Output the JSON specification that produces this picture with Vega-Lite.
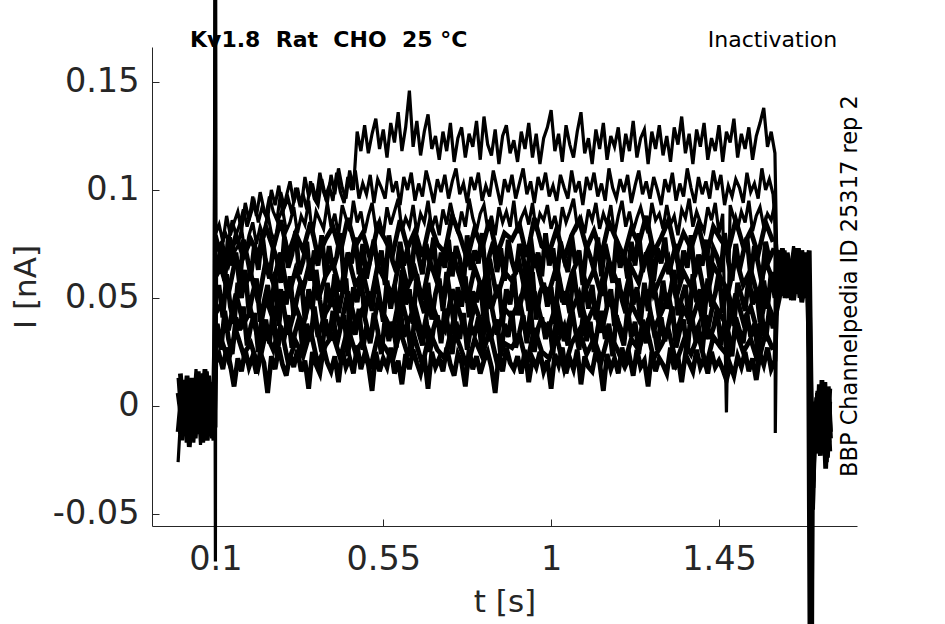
{
  "$schema": "https://vega.github.io/schema/vega-lite/v6.json",
  "width": 705,
  "height": 479,
  "autosize": "none",
  "padding": {"left": 152, "top": 47, "right": 88, "bottom": 98},
  "background": "white",
  "config": {"view": {"stroke": null}, "font": "DejaVu Sans"},
  "layer": [
    {
      "data": {"values": [
        {"s":1,"t":0,"i":-0.026},{"s":1,"t":0.012,"i":0.01},{"s":1,"t":0.024,"i":-0.012},{"s":1,"t":0.036,"i":0.008},{"s":1,"t":0.048,"i":-0.015},{"s":1,"t":0.06,"i":0.012},{"s":1,"t":0.072,"i":-0.009},{"s":1,"t":0.084,"i":0.014},{"s":1,"t":0.096,"i":-0.013},{"s":1,"t":0.1,"i":0.3},{"s":1,"t":0.101,"i":0.08},
        {"s":1,"t":0.11,"i":0.084},{"s":1,"t":0.12,"i":0.076},{"s":1,"t":0.13,"i":0.088},{"s":1,"t":0.14,"i":0.079},{"s":1,"t":0.15,"i":0.085},{"s":1,"t":0.16,"i":0.09},{"s":1,"t":0.17,"i":0.081},{"s":1,"t":0.18,"i":0.094},{"s":1,"t":0.19,"i":0.086},{"s":1,"t":0.2,"i":0.097},
        {"s":1,"t":0.21,"i":0.088},{"s":1,"t":0.22,"i":0.099},{"s":1,"t":0.23,"i":0.091},{"s":1,"t":0.24,"i":0.087},{"s":1,"t":0.25,"i":0.1},{"s":1,"t":0.26,"i":0.093},{"s":1,"t":0.27,"i":0.102},{"s":1,"t":0.28,"i":0.089},{"s":1,"t":0.29,"i":0.097},{"s":1,"t":0.3,"i":0.104},
        {"s":1,"t":0.31,"i":0.094},{"s":1,"t":0.32,"i":0.101},{"s":1,"t":0.33,"i":0.092},{"s":1,"t":0.34,"i":0.106},{"s":1,"t":0.35,"i":0.097},{"s":1,"t":0.36,"i":0.103},{"s":1,"t":0.37,"i":0.095},{"s":1,"t":0.38,"i":0.108},{"s":1,"t":0.39,"i":0.099},{"s":1,"t":0.4,"i":0.094},
        {"s":1,"t":0.41,"i":0.107},{"s":1,"t":0.42,"i":0.098},{"s":1,"t":0.43,"i":0.11},{"s":1,"t":0.44,"i":0.101},{"s":1,"t":0.45,"i":0.096},{"s":1,"t":0.46,"i":0.109},{"s":1,"t":0.47,"i":0.1},{"s":1,"t":0.48,"i":0.127},{"s":1,"t":0.49,"i":0.118},{"s":1,"t":0.5,"i":0.13},
        {"s":1,"t":0.51,"i":0.117},{"s":1,"t":0.52,"i":0.126},{"s":1,"t":0.53,"i":0.133},{"s":1,"t":0.54,"i":0.119},{"s":1,"t":0.55,"i":0.128},{"s":1,"t":0.56,"i":0.115},{"s":1,"t":0.57,"i":0.131},{"s":1,"t":0.58,"i":0.122},{"s":1,"t":0.59,"i":0.136},{"s":1,"t":0.6,"i":0.118},
        {"s":1,"t":0.61,"i":0.129},{"s":1,"t":0.62,"i":0.146},{"s":1,"t":0.63,"i":0.12},{"s":1,"t":0.64,"i":0.132},{"s":1,"t":0.65,"i":0.116},{"s":1,"t":0.66,"i":0.127},{"s":1,"t":0.67,"i":0.135},{"s":1,"t":0.68,"i":0.119},{"s":1,"t":0.69,"i":0.125},{"s":1,"t":0.7,"i":0.114},
        {"s":1,"t":0.71,"i":0.127},{"s":1,"t":0.72,"i":0.118},{"s":1,"t":0.73,"i":0.131},{"s":1,"t":0.74,"i":0.113},{"s":1,"t":0.75,"i":0.124},{"s":1,"t":0.76,"i":0.129},{"s":1,"t":0.77,"i":0.115},{"s":1,"t":0.78,"i":0.126},{"s":1,"t":0.79,"i":0.12},{"s":1,"t":0.8,"i":0.132},
        {"s":1,"t":0.81,"i":0.114},{"s":1,"t":0.82,"i":0.134},{"s":1,"t":0.83,"i":0.121},{"s":1,"t":0.84,"i":0.116},{"s":1,"t":0.85,"i":0.128},{"s":1,"t":0.86,"i":0.112},{"s":1,"t":0.87,"i":0.125},{"s":1,"t":0.88,"i":0.13},{"s":1,"t":0.89,"i":0.117},{"s":1,"t":0.9,"i":0.123},
        {"s":1,"t":0.91,"i":0.113},{"s":1,"t":0.92,"i":0.127},{"s":1,"t":0.93,"i":0.119},{"s":1,"t":0.94,"i":0.131},{"s":1,"t":0.95,"i":0.115},{"s":1,"t":0.96,"i":0.126},{"s":1,"t":0.97,"i":0.112},{"s":1,"t":0.98,"i":0.124},{"s":1,"t":0.99,"i":0.129},{"s":1,"t":1,"i":0.137},
        {"s":1,"t":1.01,"i":0.118},{"s":1,"t":1.02,"i":0.126},{"s":1,"t":1.03,"i":0.113},{"s":1,"t":1.04,"i":0.13},{"s":1,"t":1.05,"i":0.121},{"s":1,"t":1.06,"i":0.115},{"s":1,"t":1.07,"i":0.127},{"s":1,"t":1.08,"i":0.136},{"s":1,"t":1.09,"i":0.117},{"s":1,"t":1.1,"i":0.124},
        {"s":1,"t":1.11,"i":0.112},{"s":1,"t":1.12,"i":0.128},{"s":1,"t":1.13,"i":0.119},{"s":1,"t":1.14,"i":0.131},{"s":1,"t":1.15,"i":0.114},{"s":1,"t":1.16,"i":0.125},{"s":1,"t":1.17,"i":0.12},{"s":1,"t":1.18,"i":0.129},{"s":1,"t":1.19,"i":0.113},{"s":1,"t":1.2,"i":0.126},
        {"s":1,"t":1.21,"i":0.118},{"s":1,"t":1.22,"i":0.132},{"s":1,"t":1.23,"i":0.115},{"s":1,"t":1.24,"i":0.124},{"s":1,"t":1.25,"i":0.128},{"s":1,"t":1.26,"i":0.112},{"s":1,"t":1.27,"i":0.127},{"s":1,"t":1.28,"i":0.119},{"s":1,"t":1.29,"i":0.13},{"s":1,"t":1.3,"i":0.116},
        {"s":1,"t":1.31,"i":0.125},{"s":1,"t":1.32,"i":0.113},{"s":1,"t":1.33,"i":0.129},{"s":1,"t":1.34,"i":0.121},{"s":1,"t":1.35,"i":0.134},{"s":1,"t":1.36,"i":0.117},{"s":1,"t":1.37,"i":0.126},{"s":1,"t":1.38,"i":0.112},{"s":1,"t":1.39,"i":0.128},{"s":1,"t":1.4,"i":0.12},
        {"s":1,"t":1.41,"i":0.131},{"s":1,"t":1.42,"i":0.114},{"s":1,"t":1.43,"i":0.124},{"s":1,"t":1.44,"i":0.118},{"s":1,"t":1.45,"i":0.13},{"s":1,"t":1.46,"i":0.113},{"s":1,"t":1.47,"i":0.127},{"s":1,"t":1.48,"i":0.122},{"s":1,"t":1.49,"i":0.133},{"s":1,"t":1.5,"i":0.115},
        {"s":1,"t":1.51,"i":0.126},{"s":1,"t":1.52,"i":0.119},{"s":1,"t":1.53,"i":0.129},{"s":1,"t":1.54,"i":0.114},{"s":1,"t":1.55,"i":0.125},{"s":1,"t":1.56,"i":0.131},{"s":1,"t":1.57,"i":0.138},{"s":1,"t":1.58,"i":0.12},{"s":1,"t":1.59,"i":0.127},{"s":1,"t":1.6,"i":0.117},
        {"s":1,"t":1.605,"i":0.068},{"s":1,"t":1.62,"i":0.051},{"s":1,"t":1.635,"i":0.071},{"s":1,"t":1.65,"i":0.056},{"s":1,"t":1.665,"i":0.073},{"s":1,"t":1.68,"i":0.05},{"s":1,"t":1.692,"i":0.066},{"s":1,"t":1.697,"i":-0.3},
        {"s":1,"t":1.701,"i":-0.047},{"s":1,"t":1.705,"i":-0.02},{"s":1,"t":1.712,"i":0.006},{"s":1,"t":1.719,"i":-0.016},{"s":1,"t":1.726,"i":0.009},{"s":1,"t":1.733,"i":-0.02},{"s":1,"t":1.74,"i":0.004},{"s":1,"t":1.747,"i":-0.017},

        {"s":2,"t":0.006,"i":0.011},{"s":2,"t":0.018,"i":-0.014},{"s":2,"t":0.03,"i":0.006},{"s":2,"t":0.042,"i":-0.017},{"s":2,"t":0.054,"i":0.013},{"s":2,"t":0.066,"i":-0.01},{"s":2,"t":0.078,"i":0.016},{"s":2,"t":0.09,"i":-0.015},{"s":2,"t":0.099,"i":0.009},{"s":2,"t":0.1,"i":-0.072},{"s":2,"t":0.101,"i":0.075},
        {"s":2,"t":0.105,"i":0.077},{"s":2,"t":0.115,"i":0.07},{"s":2,"t":0.125,"i":0.081},{"s":2,"t":0.135,"i":0.076},{"s":2,"t":0.145,"i":0.086},{"s":2,"t":0.155,"i":0.079},{"s":2,"t":0.165,"i":0.084},{"s":2,"t":0.175,"i":0.091},{"s":2,"t":0.185,"i":0.083},{"s":2,"t":0.195,"i":0.089},
        {"s":2,"t":0.205,"i":0.094},{"s":2,"t":0.215,"i":0.085},{"s":2,"t":0.225,"i":0.092},{"s":2,"t":0.235,"i":0.088},{"s":2,"t":0.245,"i":0.097},{"s":2,"t":0.255,"i":0.09},{"s":2,"t":0.265,"i":0.086},{"s":2,"t":0.275,"i":0.099},{"s":2,"t":0.285,"i":0.092},{"s":2,"t":0.295,"i":0.096},
        {"s":2,"t":0.305,"i":0.089},{"s":2,"t":0.315,"i":0.101},{"s":2,"t":0.325,"i":0.094},{"s":2,"t":0.335,"i":0.098},{"s":2,"t":0.345,"i":0.091},{"s":2,"t":0.355,"i":0.104},{"s":2,"t":0.365,"i":0.096},{"s":2,"t":0.375,"i":0.093},{"s":2,"t":0.385,"i":0.105},{"s":2,"t":0.395,"i":0.097},
        {"s":2,"t":0.405,"i":0.102},{"s":2,"t":0.415,"i":0.095},{"s":2,"t":0.425,"i":0.108},{"s":2,"t":0.435,"i":0.099},{"s":2,"t":0.445,"i":0.094},{"s":2,"t":0.455,"i":0.106},{"s":2,"t":0.465,"i":0.1},{"s":2,"t":0.475,"i":0.109},{"s":2,"t":0.485,"i":0.096},{"s":2,"t":0.495,"i":0.103},
        {"s":2,"t":0.505,"i":0.098},{"s":2,"t":0.515,"i":0.107},{"s":2,"t":0.525,"i":0.094},{"s":2,"t":0.535,"i":0.105},{"s":2,"t":0.545,"i":0.101},{"s":2,"t":0.555,"i":0.096},{"s":2,"t":0.565,"i":0.11},{"s":2,"t":0.575,"i":0.099},{"s":2,"t":0.585,"i":0.104},{"s":2,"t":0.595,"i":0.093},
        {"s":2,"t":0.605,"i":0.106},{"s":2,"t":0.615,"i":0.1},{"s":2,"t":0.625,"i":0.108},{"s":2,"t":0.635,"i":0.095},{"s":2,"t":0.645,"i":0.103},{"s":2,"t":0.655,"i":0.097},{"s":2,"t":0.665,"i":0.109},{"s":2,"t":0.675,"i":0.102},{"s":2,"t":0.685,"i":0.094},{"s":2,"t":0.695,"i":0.105},
        {"s":2,"t":0.705,"i":0.099},{"s":2,"t":0.715,"i":0.107},{"s":2,"t":0.725,"i":0.096},{"s":2,"t":0.735,"i":0.104},{"s":2,"t":0.745,"i":0.11},{"s":2,"t":0.755,"i":0.098},{"s":2,"t":0.765,"i":0.103},{"s":2,"t":0.775,"i":0.094},{"s":2,"t":0.785,"i":0.106},{"s":2,"t":0.795,"i":0.1},
        {"s":2,"t":0.805,"i":0.108},{"s":2,"t":0.815,"i":0.095},{"s":2,"t":0.825,"i":0.102},{"s":2,"t":0.835,"i":0.097},{"s":2,"t":0.845,"i":0.109},{"s":2,"t":0.855,"i":0.101},{"s":2,"t":0.865,"i":0.093},{"s":2,"t":0.875,"i":0.105},{"s":2,"t":0.885,"i":0.099},{"s":2,"t":0.895,"i":0.107},
        {"s":2,"t":0.905,"i":0.096},{"s":2,"t":0.915,"i":0.103},{"s":2,"t":0.925,"i":0.11},{"s":2,"t":0.935,"i":0.098},{"s":2,"t":0.945,"i":0.104},{"s":2,"t":0.955,"i":0.094},{"s":2,"t":0.965,"i":0.106},{"s":2,"t":0.975,"i":0.1},{"s":2,"t":0.985,"i":0.108},{"s":2,"t":0.995,"i":0.097},
        {"s":2,"t":1.005,"i":0.102},{"s":2,"t":1.015,"i":0.095},{"s":2,"t":1.025,"i":0.107},{"s":2,"t":1.035,"i":0.101},{"s":2,"t":1.045,"i":0.096},{"s":2,"t":1.055,"i":0.109},{"s":2,"t":1.065,"i":0.099},{"s":2,"t":1.075,"i":0.104},{"s":2,"t":1.085,"i":0.093},{"s":2,"t":1.095,"i":0.106},
        {"s":2,"t":1.105,"i":0.1},{"s":2,"t":1.115,"i":0.108},{"s":2,"t":1.125,"i":0.097},{"s":2,"t":1.135,"i":0.103},{"s":2,"t":1.145,"i":0.095},{"s":2,"t":1.155,"i":0.11},{"s":2,"t":1.165,"i":0.101},{"s":2,"t":1.175,"i":0.096},{"s":2,"t":1.185,"i":0.105},{"s":2,"t":1.195,"i":0.099},
        {"s":2,"t":1.205,"i":0.107},{"s":2,"t":1.215,"i":0.094},{"s":2,"t":1.225,"i":0.102},{"s":2,"t":1.235,"i":0.109},{"s":2,"t":1.245,"i":0.098},{"s":2,"t":1.255,"i":0.104},{"s":2,"t":1.265,"i":0.096},{"s":2,"t":1.275,"i":0.106},{"s":2,"t":1.285,"i":0.1},{"s":2,"t":1.295,"i":0.093},
        {"s":2,"t":1.305,"i":0.105},{"s":2,"t":1.315,"i":0.099},{"s":2,"t":1.325,"i":0.108},{"s":2,"t":1.335,"i":0.095},{"s":2,"t":1.345,"i":0.103},{"s":2,"t":1.355,"i":0.097},{"s":2,"t":1.365,"i":0.11},{"s":2,"t":1.375,"i":0.101},{"s":2,"t":1.385,"i":0.094},{"s":2,"t":1.395,"i":0.106},
        {"s":2,"t":1.405,"i":0.098},{"s":2,"t":1.415,"i":0.104},{"s":2,"t":1.425,"i":0.096},{"s":2,"t":1.435,"i":0.109},{"s":2,"t":1.445,"i":0.1},{"s":2,"t":1.455,"i":0.107},{"s":2,"t":1.465,"i":0.093},{"s":2,"t":1.475,"i":0.102},{"s":2,"t":1.485,"i":0.097},{"s":2,"t":1.495,"i":0.105},
        {"s":2,"t":1.505,"i":0.101},{"s":2,"t":1.515,"i":0.094},{"s":2,"t":1.525,"i":0.108},{"s":2,"t":1.535,"i":0.099},{"s":2,"t":1.545,"i":0.103},{"s":2,"t":1.555,"i":0.096},{"s":2,"t":1.565,"i":0.11},{"s":2,"t":1.575,"i":0.1},{"s":2,"t":1.585,"i":0.105},{"s":2,"t":1.595,"i":0.098},
        {"s":2,"t":1.612,"i":0.055},{"s":2,"t":1.627,"i":0.072},{"s":2,"t":1.642,"i":0.049},{"s":2,"t":1.657,"i":0.069},{"s":2,"t":1.672,"i":0.053},{"s":2,"t":1.687,"i":0.07},{"s":2,"t":1.697,"i":-0.3},
        {"s":2,"t":1.702,"i":-0.04},{"s":2,"t":1.708,"i":-0.005},{"s":2,"t":1.715,"i":-0.021},{"s":2,"t":1.722,"i":0.008},{"s":2,"t":1.729,"i":-0.015},{"s":2,"t":1.736,"i":0.011},{"s":2,"t":1.743,"i":-0.024},{"s":2,"t":1.749,"i":0.002},

        {"s":3,"t":0,"i":0.013},{"s":3,"t":0.012,"i":-0.016},{"s":3,"t":0.024,"i":0.009},{"s":3,"t":0.036,"i":-0.011},{"s":3,"t":0.048,"i":0.017},{"s":3,"t":0.06,"i":-0.018},{"s":3,"t":0.072,"i":0.011},{"s":3,"t":0.084,"i":-0.014},{"s":3,"t":0.096,"i":0.008},{"s":3,"t":0.1,"i":0.25},{"s":3,"t":0.101,"i":0.07},
        {"s":3,"t":0.11,"i":0.068},{"s":3,"t":0.12,"i":0.075},{"s":3,"t":0.13,"i":0.066},{"s":3,"t":0.14,"i":0.078},{"s":3,"t":0.15,"i":0.071},{"s":3,"t":0.16,"i":0.074},{"s":3,"t":0.17,"i":0.082},{"s":3,"t":0.18,"i":0.07},{"s":3,"t":0.19,"i":0.079},{"s":3,"t":0.2,"i":0.085},
        {"s":3,"t":0.21,"i":0.075},{"s":3,"t":0.22,"i":0.083},{"s":3,"t":0.23,"i":0.078},{"s":3,"t":0.24,"i":0.089},{"s":3,"t":0.25,"i":0.08},{"s":3,"t":0.26,"i":0.076},{"s":3,"t":0.27,"i":0.087},{"s":3,"t":0.28,"i":0.091},{"s":3,"t":0.29,"i":0.081},{"s":3,"t":0.3,"i":0.085},
        {"s":3,"t":0.31,"i":0.092},{"s":3,"t":0.32,"i":0.08},{"s":3,"t":0.33,"i":0.088},{"s":3,"t":0.34,"i":0.084},{"s":3,"t":0.35,"i":0.095},{"s":3,"t":0.36,"i":0.079},{"s":3,"t":0.37,"i":0.09},{"s":3,"t":0.38,"i":0.086},{"s":3,"t":0.39,"i":0.082},{"s":3,"t":0.4,"i":0.094},
        {"s":3,"t":0.41,"i":0.083},{"s":3,"t":0.42,"i":0.089},{"s":3,"t":0.43,"i":0.079},{"s":3,"t":0.44,"i":0.093},{"s":3,"t":0.45,"i":0.087},{"s":3,"t":0.46,"i":0.081},{"s":3,"t":0.47,"i":0.095},{"s":3,"t":0.48,"i":0.085},{"s":3,"t":0.49,"i":0.09},{"s":3,"t":0.5,"i":0.08},
        {"s":3,"t":0.51,"i":0.088},{"s":3,"t":0.52,"i":0.094},{"s":3,"t":0.53,"i":0.082},{"s":3,"t":0.54,"i":0.086},{"s":3,"t":0.55,"i":0.079},{"s":3,"t":0.56,"i":0.092},{"s":3,"t":0.57,"i":0.084},{"s":3,"t":0.58,"i":0.09},{"s":3,"t":0.59,"i":0.096},{"s":3,"t":0.6,"i":0.081},
        {"s":3,"t":0.61,"i":0.087},{"s":3,"t":0.62,"i":0.083},{"s":3,"t":0.63,"i":0.093},{"s":3,"t":0.64,"i":0.08},{"s":3,"t":0.65,"i":0.089},{"s":3,"t":0.66,"i":0.085},{"s":3,"t":0.67,"i":0.095},{"s":3,"t":0.68,"i":0.082},{"s":3,"t":0.69,"i":0.088},{"s":3,"t":0.7,"i":0.079},
        {"s":3,"t":0.71,"i":0.091},{"s":3,"t":0.72,"i":0.084},{"s":3,"t":0.73,"i":0.094},{"s":3,"t":0.74,"i":0.086},{"s":3,"t":0.75,"i":0.08},{"s":3,"t":0.76,"i":0.09},{"s":3,"t":0.77,"i":0.083},{"s":3,"t":0.78,"i":0.096},{"s":3,"t":0.79,"i":0.087},{"s":3,"t":0.8,"i":0.081},
        {"s":3,"t":0.81,"i":0.089},{"s":3,"t":0.82,"i":0.093},{"s":3,"t":0.83,"i":0.082},{"s":3,"t":0.84,"i":0.088},{"s":3,"t":0.85,"i":0.079},{"s":3,"t":0.86,"i":0.092},{"s":3,"t":0.87,"i":0.085},{"s":3,"t":0.88,"i":0.09},{"s":3,"t":0.89,"i":0.083},{"s":3,"t":0.9,"i":0.095},
        {"s":3,"t":0.91,"i":0.08},{"s":3,"t":0.92,"i":0.087},{"s":3,"t":0.93,"i":0.091},{"s":3,"t":0.94,"i":0.084},{"s":3,"t":0.95,"i":0.094},{"s":3,"t":0.96,"i":0.081},{"s":3,"t":0.97,"i":0.089},{"s":3,"t":0.98,"i":0.086},{"s":3,"t":0.99,"i":0.093},{"s":3,"t":1,"i":0.082},
        {"s":3,"t":1.01,"i":0.088},{"s":3,"t":1.02,"i":0.079},{"s":3,"t":1.03,"i":0.092},{"s":3,"t":1.04,"i":0.085},{"s":3,"t":1.05,"i":0.09},{"s":3,"t":1.06,"i":0.096},{"s":3,"t":1.07,"i":0.083},{"s":3,"t":1.08,"i":0.087},{"s":3,"t":1.09,"i":0.08},{"s":3,"t":1.1,"i":0.091},
        {"s":3,"t":1.11,"i":0.086},{"s":3,"t":1.12,"i":0.094},{"s":3,"t":1.13,"i":0.082},{"s":3,"t":1.14,"i":0.089},{"s":3,"t":1.15,"i":0.084},{"s":3,"t":1.16,"i":0.093},{"s":3,"t":1.17,"i":0.079},{"s":3,"t":1.18,"i":0.088},{"s":3,"t":1.19,"i":0.095},{"s":3,"t":1.2,"i":0.083},
        {"s":3,"t":1.21,"i":0.09},{"s":3,"t":1.22,"i":0.081},{"s":3,"t":1.23,"i":0.087},{"s":3,"t":1.24,"i":0.092},{"s":3,"t":1.25,"i":0.085},{"s":3,"t":1.26,"i":0.08},{"s":3,"t":1.27,"i":0.094},{"s":3,"t":1.28,"i":0.086},{"s":3,"t":1.29,"i":0.089},{"s":3,"t":1.3,"i":0.082},
        {"s":3,"t":1.31,"i":0.093},{"s":3,"t":1.32,"i":0.084},{"s":3,"t":1.33,"i":0.088},{"s":3,"t":1.34,"i":0.079},{"s":3,"t":1.35,"i":0.091},{"s":3,"t":1.36,"i":0.087},{"s":3,"t":1.37,"i":0.096},{"s":3,"t":1.38,"i":0.083},{"s":3,"t":1.39,"i":0.09},{"s":3,"t":1.4,"i":0.085},
        {"s":3,"t":1.41,"i":0.081},{"s":3,"t":1.42,"i":0.092},{"s":3,"t":1.43,"i":0.086},{"s":3,"t":1.44,"i":0.094},{"s":3,"t":1.45,"i":0.08},{"s":3,"t":1.46,"i":0.089},{"s":3,"t":1.47,"i":-0.003},{"s":3,"t":1.48,"i":0.093},{"s":3,"t":1.49,"i":0.087},{"s":3,"t":1.5,"i":0.082},
        {"s":3,"t":1.51,"i":0.09},{"s":3,"t":1.52,"i":0.085},{"s":3,"t":1.53,"i":0.095},{"s":3,"t":1.54,"i":0.081},{"s":3,"t":1.55,"i":0.088},{"s":3,"t":1.56,"i":0.092},{"s":3,"t":1.57,"i":0.083},{"s":3,"t":1.58,"i":0.089},{"s":3,"t":1.59,"i":0.086},{"s":3,"t":1.6,"i":0.094},
        {"s":3,"t":1.601,"i":-0.0125},{"s":3,"t":1.605,"i":0.052},{"s":3,"t":1.62,"i":0.07},{"s":3,"t":1.635,"i":0.054},{"s":3,"t":1.65,"i":0.074},{"s":3,"t":1.665,"i":0.05},{"s":3,"t":1.68,"i":0.067},{"s":3,"t":1.692,"i":0.057},{"s":3,"t":1.697,"i":-0.3},
        {"s":3,"t":1.701,"i":-0.045},{"s":3,"t":1.705,"i":-0.012},{"s":3,"t":1.712,"i":-0.022},{"s":3,"t":1.719,"i":0.005},{"s":3,"t":1.726,"i":-0.018},{"s":3,"t":1.733,"i":0.007},{"s":3,"t":1.74,"i":-0.026},{"s":3,"t":1.747,"i":0.003},

        {"s":4,"t":0.006,"i":-0.013},{"s":4,"t":0.018,"i":0.012},{"s":4,"t":0.03,"i":-0.019},{"s":4,"t":0.042,"i":0.01},{"s":4,"t":0.054,"i":-0.012},{"s":4,"t":0.066,"i":0.015},{"s":4,"t":0.078,"i":-0.016},{"s":4,"t":0.09,"i":0.011},{"s":4,"t":0.099,"i":-0.01},{"s":4,"t":0.101,"i":0.065},
        {"s":4,"t":0.105,"i":0.062},{"s":4,"t":0.115,"i":0.074},{"s":4,"t":0.125,"i":0.058},{"s":4,"t":0.135,"i":0.079},{"s":4,"t":0.145,"i":0.065},{"s":4,"t":0.155,"i":0.071},{"s":4,"t":0.165,"i":0.056},{"s":4,"t":0.175,"i":0.077},{"s":4,"t":0.185,"i":0.069},{"s":4,"t":0.195,"i":0.06},
        {"s":4,"t":0.205,"i":0.075},{"s":4,"t":0.215,"i":0.063},{"s":4,"t":0.225,"i":0.08},{"s":4,"t":0.235,"i":0.066},{"s":4,"t":0.245,"i":0.059},{"s":4,"t":0.255,"i":0.073},{"s":4,"t":0.265,"i":0.068},{"s":4,"t":0.275,"i":0.057},{"s":4,"t":0.285,"i":0.078},{"s":4,"t":0.295,"i":0.064},
        {"s":4,"t":0.305,"i":0.07},{"s":4,"t":0.315,"i":0.081},{"s":4,"t":0.325,"i":0.061},{"s":4,"t":0.335,"i":0.067},{"s":4,"t":0.345,"i":0.076},{"s":4,"t":0.355,"i":0.058},{"s":4,"t":0.365,"i":0.072},{"s":4,"t":0.375,"i":0.065},{"s":4,"t":0.385,"i":0.079},{"s":4,"t":0.395,"i":0.06},
        {"s":4,"t":0.405,"i":0.074},{"s":4,"t":0.415,"i":0.063},{"s":4,"t":0.425,"i":0.069},{"s":4,"t":0.435,"i":0.08},{"s":4,"t":0.445,"i":0.057},{"s":4,"t":0.455,"i":0.071},{"s":4,"t":0.465,"i":0.066},{"s":4,"t":0.475,"i":0.078},{"s":4,"t":0.485,"i":0.061},{"s":4,"t":0.495,"i":0.075},
        {"s":4,"t":0.505,"i":0.059},{"s":4,"t":0.515,"i":0.068},{"s":4,"t":0.525,"i":0.077},{"s":4,"t":0.535,"i":0.064},{"s":4,"t":0.545,"i":0.072},{"s":4,"t":0.555,"i":0.056},{"s":4,"t":0.565,"i":0.079},{"s":4,"t":0.575,"i":0.067},{"s":4,"t":0.585,"i":0.062},{"s":4,"t":0.595,"i":0.076},
        {"s":4,"t":0.605,"i":0.065},{"s":4,"t":0.615,"i":0.073},{"s":4,"t":0.625,"i":0.058},{"s":4,"t":0.635,"i":0.08},{"s":4,"t":0.645,"i":0.069},{"s":4,"t":0.655,"i":0.061},{"s":4,"t":0.665,"i":0.075},{"s":4,"t":0.675,"i":0.066},{"s":4,"t":0.685,"i":0.078},{"s":4,"t":0.695,"i":0.057},
        {"s":4,"t":0.705,"i":0.071},{"s":4,"t":0.715,"i":0.064},{"s":4,"t":0.725,"i":0.077},{"s":4,"t":0.735,"i":0.06},{"s":4,"t":0.745,"i":0.074},{"s":4,"t":0.755,"i":0.068},{"s":4,"t":0.765,"i":0.056},{"s":4,"t":0.775,"i":0.079},{"s":4,"t":0.785,"i":0.063},{"s":4,"t":0.795,"i":0.072},
        {"s":4,"t":0.805,"i":0.066},{"s":4,"t":0.815,"i":0.08},{"s":4,"t":0.825,"i":0.059},{"s":4,"t":0.835,"i":0.07},{"s":4,"t":0.845,"i":0.076},{"s":4,"t":0.855,"i":0.062},{"s":4,"t":0.865,"i":0.073},{"s":4,"t":0.875,"i":0.058},{"s":4,"t":0.885,"i":0.077},{"s":4,"t":0.895,"i":0.067},
        {"s":4,"t":0.905,"i":0.061},{"s":4,"t":0.915,"i":0.075},{"s":4,"t":0.925,"i":0.069},{"s":4,"t":0.935,"i":0.057},{"s":4,"t":0.945,"i":0.078},{"s":4,"t":0.955,"i":0.064},{"s":4,"t":0.965,"i":0.071},{"s":4,"t":0.975,"i":0.06},{"s":4,"t":0.985,"i":0.08},{"s":4,"t":0.995,"i":0.065},
        {"s":4,"t":1.005,"i":0.073},{"s":4,"t":1.015,"i":0.058},{"s":4,"t":1.025,"i":0.076},{"s":4,"t":1.035,"i":0.068},{"s":4,"t":1.045,"i":0.062},{"s":4,"t":1.055,"i":0.079},{"s":4,"t":1.065,"i":0.066},{"s":4,"t":1.075,"i":0.072},{"s":4,"t":1.085,"i":0.056},{"s":4,"t":1.095,"i":0.074},
        {"s":4,"t":1.105,"i":0.069},{"s":4,"t":1.115,"i":0.063},{"s":4,"t":1.125,"i":0.078},{"s":4,"t":1.135,"i":0.06},{"s":4,"t":1.145,"i":0.075},{"s":4,"t":1.155,"i":0.067},{"s":4,"t":1.165,"i":0.057},{"s":4,"t":1.175,"i":0.077},{"s":4,"t":1.185,"i":0.064},{"s":4,"t":1.195,"i":0.071},
        {"s":4,"t":1.205,"i":0.059},{"s":4,"t":1.215,"i":0.076},{"s":4,"t":1.225,"i":0.065},{"s":4,"t":1.235,"i":0.08},{"s":4,"t":1.245,"i":0.062},{"s":4,"t":1.255,"i":0.07},{"s":4,"t":1.265,"i":0.074},{"s":4,"t":1.275,"i":0.058},{"s":4,"t":1.285,"i":0.073},{"s":4,"t":1.295,"i":0.066},
        {"s":4,"t":1.305,"i":0.078},{"s":4,"t":1.315,"i":0.061},{"s":4,"t":1.325,"i":0.068},{"s":4,"t":1.335,"i":0.075},{"s":4,"t":1.345,"i":0.057},{"s":4,"t":1.355,"i":0.072},{"s":4,"t":1.365,"i":0.064},{"s":4,"t":1.375,"i":0.079},{"s":4,"t":1.385,"i":0.06},{"s":4,"t":1.395,"i":0.07},
        {"s":4,"t":1.405,"i":0.065},{"s":4,"t":1.415,"i":0.077},{"s":4,"t":1.425,"i":0.059},{"s":4,"t":1.435,"i":0.073},{"s":4,"t":1.445,"i":0.069},{"s":4,"t":1.455,"i":0.062},{"s":4,"t":1.465,"i":0.08},{"s":4,"t":1.475,"i":0.067},{"s":4,"t":1.485,"i":0.058},{"s":4,"t":1.495,"i":0.075},
        {"s":4,"t":1.505,"i":0.063},{"s":4,"t":1.515,"i":0.071},{"s":4,"t":1.525,"i":0.078},{"s":4,"t":1.535,"i":0.06},{"s":4,"t":1.545,"i":0.074},{"s":4,"t":1.555,"i":0.066},{"s":4,"t":1.565,"i":0.057},{"s":4,"t":1.575,"i":0.076},{"s":4,"t":1.585,"i":0.068},{"s":4,"t":1.595,"i":0.072},
        {"s":4,"t":1.612,"i":0.071},{"s":4,"t":1.627,"i":0.05},{"s":4,"t":1.642,"i":0.068},{"s":4,"t":1.657,"i":0.052},{"s":4,"t":1.672,"i":0.072},{"s":4,"t":1.687,"i":0.055},
        {"s":4,"t":1.702,"i":-0.035},{"s":4,"t":1.708,"i":0.002},{"s":4,"t":1.715,"i":-0.014},{"s":4,"t":1.722,"i":-0.023},{"s":4,"t":1.729,"i":0.006},{"s":4,"t":1.736,"i":-0.017},{"s":4,"t":1.743,"i":0.009},{"s":4,"t":1.749,"i":-0.012},

        {"s":5,"t":0,"i":0.006},{"s":5,"t":0.012,"i":-0.01},{"s":5,"t":0.024,"i":0.014},{"s":5,"t":0.036,"i":-0.015},{"s":5,"t":0.048,"i":0.009},{"s":5,"t":0.06,"i":-0.013},{"s":5,"t":0.072,"i":0.017},{"s":5,"t":0.084,"i":-0.011},{"s":5,"t":0.096,"i":0.012},{"s":5,"t":0.101,"i":0.055},
        {"s":5,"t":0.11,"i":0.055},{"s":5,"t":0.12,"i":0.041},{"s":5,"t":0.13,"i":0.061},{"s":5,"t":0.14,"i":0.046},{"s":5,"t":0.15,"i":0.038},{"s":5,"t":0.16,"i":0.057},{"s":5,"t":0.17,"i":0.05},{"s":5,"t":0.18,"i":0.063},{"s":5,"t":0.19,"i":0.043},{"s":5,"t":0.2,"i":0.052},
        {"s":5,"t":0.21,"i":0.059},{"s":5,"t":0.22,"i":0.039},{"s":5,"t":0.23,"i":0.048},{"s":5,"t":0.24,"i":0.056},{"s":5,"t":0.25,"i":0.044},{"s":5,"t":0.26,"i":0.062},{"s":5,"t":0.27,"i":0.037},{"s":5,"t":0.28,"i":0.053},{"s":5,"t":0.29,"i":0.047},{"s":5,"t":0.3,"i":0.06},
        {"s":5,"t":0.31,"i":0.042},{"s":5,"t":0.32,"i":0.051},{"s":5,"t":0.33,"i":0.058},{"s":5,"t":0.34,"i":0.04},{"s":5,"t":0.35,"i":0.054},{"s":5,"t":0.36,"i":0.045},{"s":5,"t":0.37,"i":0.063},{"s":5,"t":0.38,"i":0.049},{"s":5,"t":0.39,"i":0.038},{"s":5,"t":0.4,"i":0.057},
        {"s":5,"t":0.41,"i":0.046},{"s":5,"t":0.42,"i":0.061},{"s":5,"t":0.43,"i":0.043},{"s":5,"t":0.44,"i":0.052},{"s":5,"t":0.45,"i":0.059},{"s":5,"t":0.46,"i":0.037},{"s":5,"t":0.47,"i":0.055},{"s":5,"t":0.48,"i":0.048},{"s":5,"t":0.49,"i":0.062},{"s":5,"t":0.5,"i":0.041},
        {"s":5,"t":0.51,"i":0.053},{"s":5,"t":0.52,"i":0.044},{"s":5,"t":0.53,"i":0.06},{"s":5,"t":0.54,"i":0.05},{"s":5,"t":0.55,"i":0.039},{"s":5,"t":0.56,"i":0.058},{"s":5,"t":0.57,"i":0.045},{"s":5,"t":0.58,"i":0.056},{"s":5,"t":0.59,"i":0.042},{"s":5,"t":0.6,"i":0.063},
        {"s":5,"t":0.61,"i":0.047},{"s":5,"t":0.62,"i":0.054},{"s":5,"t":0.63,"i":0.038},{"s":5,"t":0.64,"i":0.061},{"s":5,"t":0.65,"i":0.049},{"s":5,"t":0.66,"i":0.043},{"s":5,"t":0.67,"i":0.057},{"s":5,"t":0.68,"i":0.04},{"s":5,"t":0.69,"i":0.052},{"s":5,"t":0.7,"i":0.059},
        {"s":5,"t":0.71,"i":0.044},{"s":5,"t":0.72,"i":0.062},{"s":5,"t":0.73,"i":0.05},{"s":5,"t":0.74,"i":0.037},{"s":5,"t":0.75,"i":0.055},{"s":5,"t":0.76,"i":0.046},{"s":5,"t":0.77,"i":0.06},{"s":5,"t":0.78,"i":0.041},{"s":5,"t":0.79,"i":0.053},{"s":5,"t":0.8,"i":0.048},
        {"s":5,"t":0.81,"i":0.058},{"s":5,"t":0.82,"i":0.039},{"s":5,"t":0.83,"i":0.063},{"s":5,"t":0.84,"i":0.045},{"s":5,"t":0.85,"i":0.051},{"s":5,"t":0.86,"i":0.056},{"s":5,"t":0.87,"i":0.038},{"s":5,"t":0.88,"i":0.054},{"s":5,"t":0.89,"i":0.047},{"s":5,"t":0.9,"i":0.061},
        {"s":5,"t":0.91,"i":0.042},{"s":5,"t":0.92,"i":0.049},{"s":5,"t":0.93,"i":0.059},{"s":5,"t":0.94,"i":0.044},{"s":5,"t":0.95,"i":0.062},{"s":5,"t":0.96,"i":0.04},{"s":5,"t":0.97,"i":0.052},{"s":5,"t":0.98,"i":0.057},{"s":5,"t":0.99,"i":0.046},{"s":5,"t":1,"i":0.055},
        {"s":5,"t":1.01,"i":0.038},{"s":5,"t":1.02,"i":0.06},{"s":5,"t":1.03,"i":0.048},{"s":5,"t":1.04,"i":0.053},{"s":5,"t":1.05,"i":0.043},{"s":5,"t":1.06,"i":0.063},{"s":5,"t":1.07,"i":0.05},{"s":5,"t":1.08,"i":0.041},{"s":5,"t":1.09,"i":0.058},{"s":5,"t":1.1,"i":0.045},
        {"s":5,"t":1.11,"i":0.056},{"s":5,"t":1.12,"i":0.04},{"s":5,"t":1.13,"i":0.051},{"s":5,"t":1.14,"i":0.061},{"s":5,"t":1.15,"i":0.046},{"s":5,"t":1.16,"i":0.054},{"s":5,"t":1.17,"i":0.037},{"s":5,"t":1.18,"i":0.059},{"s":5,"t":1.19,"i":0.049},{"s":5,"t":1.2,"i":0.043},
        {"s":5,"t":1.21,"i":0.062},{"s":5,"t":1.22,"i":0.047},{"s":5,"t":1.23,"i":0.055},{"s":5,"t":1.24,"i":0.039},{"s":5,"t":1.25,"i":0.057},{"s":5,"t":1.26,"i":0.044},{"s":5,"t":1.27,"i":0.06},{"s":5,"t":1.28,"i":0.052},{"s":5,"t":1.29,"i":0.041},{"s":5,"t":1.3,"i":0.058},
        {"s":5,"t":1.31,"i":0.045},{"s":5,"t":1.32,"i":0.053},{"s":5,"t":1.33,"i":0.063},{"s":5,"t":1.34,"i":0.042},{"s":5,"t":1.35,"i":0.05},{"s":5,"t":1.36,"i":0.056},{"s":5,"t":1.37,"i":0.038},{"s":5,"t":1.38,"i":0.061},{"s":5,"t":1.39,"i":0.048},{"s":5,"t":1.4,"i":0.054},
        {"s":5,"t":1.41,"i":0.04},{"s":5,"t":1.42,"i":0.059},{"s":5,"t":1.43,"i":0.046},{"s":5,"t":1.44,"i":0.052},{"s":5,"t":1.45,"i":0.062},{"s":5,"t":1.46,"i":0.043},{"s":5,"t":1.47,"i":0.055},{"s":5,"t":1.48,"i":0.049},{"s":5,"t":1.49,"i":0.037},{"s":5,"t":1.5,"i":0.057},
        {"s":5,"t":1.51,"i":0.051},{"s":5,"t":1.52,"i":0.044},{"s":5,"t":1.53,"i":0.06},{"s":5,"t":1.54,"i":0.047},{"s":5,"t":1.55,"i":0.054},{"s":5,"t":1.56,"i":0.039},{"s":5,"t":1.57,"i":0.058},{"s":5,"t":1.58,"i":0.045},{"s":5,"t":1.59,"i":0.062},{"s":5,"t":1.6,"i":0.05},
        {"s":5,"t":1.605,"i":0.07},{"s":5,"t":1.62,"i":0.054},{"s":5,"t":1.635,"i":0.066},{"s":5,"t":1.65,"i":0.049},{"s":5,"t":1.665,"i":0.069},{"s":5,"t":1.68,"i":0.058},{"s":5,"t":1.692,"i":0.072},
        {"s":5,"t":1.701,"i":-0.046},{"s":5,"t":1.705,"i":-0.017},{"s":5,"t":1.712,"i":0.004},{"s":5,"t":1.719,"i":-0.02},{"s":5,"t":1.726,"i":0.012},{"s":5,"t":1.733,"i":-0.013},{"s":5,"t":1.74,"i":0.006},{"s":5,"t":1.747,"i":-0.021},

        {"s":6,"t":0.006,"i":0.015},{"s":6,"t":0.018,"i":-0.009},{"s":6,"t":0.03,"i":0.012},{"s":6,"t":0.042,"i":-0.014},{"s":6,"t":0.054,"i":0.016},{"s":6,"t":0.066,"i":-0.017},{"s":6,"t":0.078,"i":0.008},{"s":6,"t":0.09,"i":-0.012},{"s":6,"t":0.099,"i":0.013},{"s":6,"t":0.101,"i":0.035},
        {"s":6,"t":0.105,"i":0.038},{"s":6,"t":0.115,"i":0.026},{"s":6,"t":0.125,"i":0.044},{"s":6,"t":0.135,"i":0.031},{"s":6,"t":0.145,"i":0.024},{"s":6,"t":0.155,"i":0.041},{"s":6,"t":0.165,"i":0.035},{"s":6,"t":0.175,"i":0.046},{"s":6,"t":0.185,"i":0.028},{"s":6,"t":0.195,"i":0.037},
        {"s":6,"t":0.205,"i":0.043},{"s":6,"t":0.215,"i":0.025},{"s":6,"t":0.225,"i":0.033},{"s":6,"t":0.235,"i":0.04},{"s":6,"t":0.245,"i":0.029},{"s":6,"t":0.255,"i":0.045},{"s":6,"t":0.265,"i":0.023},{"s":6,"t":0.275,"i":0.036},{"s":6,"t":0.285,"i":0.032},{"s":6,"t":0.295,"i":0.042},
        {"s":6,"t":0.305,"i":0.027},{"s":6,"t":0.315,"i":0.035},{"s":6,"t":0.325,"i":0.041},{"s":6,"t":0.335,"i":0.024},{"s":6,"t":0.345,"i":0.038},{"s":6,"t":0.355,"i":0.03},{"s":6,"t":0.365,"i":0.046},{"s":6,"t":0.375,"i":0.034},{"s":6,"t":0.385,"i":0.025},{"s":6,"t":0.395,"i":0.04},
        {"s":6,"t":0.405,"i":0.031},{"s":6,"t":0.415,"i":0.044},{"s":6,"t":0.425,"i":0.028},{"s":6,"t":0.435,"i":0.036},{"s":6,"t":0.445,"i":0.042},{"s":6,"t":0.455,"i":0.023},{"s":6,"t":0.465,"i":0.039},{"s":6,"t":0.475,"i":0.033},{"s":6,"t":0.485,"i":0.045},{"s":6,"t":0.495,"i":0.026},
        {"s":6,"t":0.505,"i":0.037},{"s":6,"t":0.515,"i":0.029},{"s":6,"t":0.525,"i":0.043},{"s":6,"t":0.535,"i":0.035},{"s":6,"t":0.545,"i":0.024},{"s":6,"t":0.555,"i":0.041},{"s":6,"t":0.565,"i":0.03},{"s":6,"t":0.575,"i":0.039},{"s":6,"t":0.585,"i":0.027},{"s":6,"t":0.595,"i":0.046},
        {"s":6,"t":0.605,"i":0.032},{"s":6,"t":0.615,"i":0.038},{"s":6,"t":0.625,"i":0.023},{"s":6,"t":0.635,"i":0.044},{"s":6,"t":0.645,"i":0.034},{"s":6,"t":0.655,"i":0.028},{"s":6,"t":0.665,"i":0.04},{"s":6,"t":0.675,"i":0.025},{"s":6,"t":0.685,"i":0.036},{"s":6,"t":0.695,"i":0.042},
        {"s":6,"t":0.705,"i":0.029},{"s":6,"t":0.715,"i":0.045},{"s":6,"t":0.725,"i":0.035},{"s":6,"t":0.735,"i":0.024},{"s":6,"t":0.745,"i":0.039},{"s":6,"t":0.755,"i":0.031},{"s":6,"t":0.765,"i":0.043},{"s":6,"t":0.775,"i":0.026},{"s":6,"t":0.785,"i":0.037},{"s":6,"t":0.795,"i":0.033},
        {"s":6,"t":0.805,"i":0.041},{"s":6,"t":0.815,"i":0.025},{"s":6,"t":0.825,"i":0.046},{"s":6,"t":0.835,"i":0.03},{"s":6,"t":0.845,"i":0.035},{"s":6,"t":0.855,"i":0.04},{"s":6,"t":0.865,"i":0.023},{"s":6,"t":0.875,"i":0.038},{"s":6,"t":0.885,"i":0.032},{"s":6,"t":0.895,"i":0.044},
        {"s":6,"t":0.905,"i":0.027},{"s":6,"t":0.915,"i":0.034},{"s":6,"t":0.925,"i":0.042},{"s":6,"t":0.935,"i":0.029},{"s":6,"t":0.945,"i":0.045},{"s":6,"t":0.955,"i":0.025},{"s":6,"t":0.965,"i":0.036},{"s":6,"t":0.975,"i":0.041},{"s":6,"t":0.985,"i":0.031},{"s":6,"t":0.995,"i":0.039},
        {"s":6,"t":1.005,"i":0.024},{"s":6,"t":1.015,"i":0.043},{"s":6,"t":1.025,"i":0.033},{"s":6,"t":1.035,"i":0.037},{"s":6,"t":1.045,"i":0.028},{"s":6,"t":1.055,"i":0.046},{"s":6,"t":1.065,"i":0.035},{"s":6,"t":1.075,"i":0.026},{"s":6,"t":1.085,"i":0.041},{"s":6,"t":1.095,"i":0.03},
        {"s":6,"t":1.105,"i":0.039},{"s":6,"t":1.115,"i":0.025},{"s":6,"t":1.125,"i":0.036},{"s":6,"t":1.135,"i":0.044},{"s":6,"t":1.145,"i":0.031},{"s":6,"t":1.155,"i":0.038},{"s":6,"t":1.165,"i":0.023},{"s":6,"t":1.175,"i":0.042},{"s":6,"t":1.185,"i":0.034},{"s":6,"t":1.195,"i":0.028},
        {"s":6,"t":1.205,"i":0.045},{"s":6,"t":1.215,"i":0.032},{"s":6,"t":1.225,"i":0.039},{"s":6,"t":1.235,"i":0.024},{"s":6,"t":1.245,"i":0.04},{"s":6,"t":1.255,"i":0.029},{"s":6,"t":1.265,"i":0.043},{"s":6,"t":1.275,"i":0.037},{"s":6,"t":1.285,"i":0.026},{"s":6,"t":1.295,"i":0.041},
        {"s":6,"t":1.305,"i":0.03},{"s":6,"t":1.315,"i":0.038},{"s":6,"t":1.325,"i":0.046},{"s":6,"t":1.335,"i":0.027},{"s":6,"t":1.345,"i":0.035},{"s":6,"t":1.355,"i":0.04},{"s":6,"t":1.365,"i":0.024},{"s":6,"t":1.375,"i":0.044},{"s":6,"t":1.385,"i":0.033},{"s":6,"t":1.395,"i":0.037},
        {"s":6,"t":1.405,"i":0.025},{"s":6,"t":1.415,"i":0.042},{"s":6,"t":1.425,"i":0.031},{"s":6,"t":1.435,"i":0.036},{"s":6,"t":1.445,"i":0.045},{"s":6,"t":1.455,"i":0.028},{"s":6,"t":1.465,"i":0.039},{"s":6,"t":1.475,"i":0.034},{"s":6,"t":1.485,"i":0.023},{"s":6,"t":1.495,"i":0.041},
        {"s":6,"t":1.505,"i":0.035},{"s":6,"t":1.515,"i":0.029},{"s":6,"t":1.525,"i":0.043},{"s":6,"t":1.535,"i":0.032},{"s":6,"t":1.545,"i":0.038},{"s":6,"t":1.555,"i":0.024},{"s":6,"t":1.565,"i":0.042},{"s":6,"t":1.575,"i":0.03},{"s":6,"t":1.585,"i":0.045},{"s":6,"t":1.595,"i":0.036},
        {"s":6,"t":1.612,"i":0.05},{"s":6,"t":1.627,"i":0.067},{"s":6,"t":1.642,"i":0.056},{"s":6,"t":1.657,"i":0.073},{"s":6,"t":1.672,"i":0.048},{"s":6,"t":1.687,"i":0.064},
        {"s":6,"t":1.702,"i":-0.038},{"s":6,"t":1.708,"i":-0.01},{"s":6,"t":1.715,"i":0.007},{"s":6,"t":1.722,"i":-0.019},{"s":6,"t":1.729,"i":0.003},{"s":6,"t":1.736,"i":-0.029},{"s":6,"t":1.743,"i":0.005},{"s":6,"t":1.749,"i":-0.015},

        {"s":7,"t":0,"i":-0.012},{"s":7,"t":0.012,"i":0.011},{"s":7,"t":0.024,"i":-0.017},{"s":7,"t":0.036,"i":0.013},{"s":7,"t":0.048,"i":-0.009},{"s":7,"t":0.06,"i":0.01},{"s":7,"t":0.072,"i":-0.014},{"s":7,"t":0.084,"i":0.009},{"s":7,"t":0.096,"i":-0.016},{"s":7,"t":0.101,"i":0.02},
        {"s":7,"t":0.11,"i":0.024},{"s":7,"t":0.12,"i":0.017},{"s":7,"t":0.13,"i":0.027},{"s":7,"t":0.14,"i":0.019},{"s":7,"t":0.15,"i":0.009},{"s":7,"t":0.16,"i":0.022},{"s":7,"t":0.17,"i":0.016},{"s":7,"t":0.18,"i":0.026},{"s":7,"t":0.19,"i":0.018},{"s":7,"t":0.2,"i":0.023},
        {"s":7,"t":0.21,"i":0.015},{"s":7,"t":0.22,"i":0.025},{"s":7,"t":0.23,"i":0.02},{"s":7,"t":0.24,"i":0.006},{"s":7,"t":0.25,"i":0.023},{"s":7,"t":0.26,"i":0.017},{"s":7,"t":0.27,"i":0.027},{"s":7,"t":0.28,"i":0.019},{"s":7,"t":0.29,"i":0.014},{"s":7,"t":0.3,"i":0.024},
        {"s":7,"t":0.31,"i":0.018},{"s":7,"t":0.32,"i":0.026},{"s":7,"t":0.33,"i":0.016},{"s":7,"t":0.34,"i":0.021},{"s":7,"t":0.35,"i":0.008},{"s":7,"t":0.36,"i":0.025},{"s":7,"t":0.37,"i":0.019},{"s":7,"t":0.38,"i":0.015},{"s":7,"t":0.39,"i":0.027},{"s":7,"t":0.4,"i":0.02},
        {"s":7,"t":0.41,"i":0.016},{"s":7,"t":0.42,"i":0.023},{"s":7,"t":0.43,"i":0.011},{"s":7,"t":0.44,"i":0.026},{"s":7,"t":0.45,"i":0.018},{"s":7,"t":0.46,"i":0.022},{"s":7,"t":0.47,"i":0.015},{"s":7,"t":0.48,"i":0.028},{"s":7,"t":0.49,"i":0.017},{"s":7,"t":0.5,"i":0.024},
        {"s":7,"t":0.51,"i":0.019},{"s":7,"t":0.52,"i":0.007},{"s":7,"t":0.53,"i":0.025},{"s":7,"t":0.54,"i":0.016},{"s":7,"t":0.55,"i":0.022},{"s":7,"t":0.56,"i":0.018},{"s":7,"t":0.57,"i":0.027},{"s":7,"t":0.58,"i":0.015},{"s":7,"t":0.59,"i":0.021},{"s":7,"t":0.6,"i":0.01},
        {"s":7,"t":0.61,"i":0.024},{"s":7,"t":0.62,"i":0.017},{"s":7,"t":0.63,"i":0.026},{"s":7,"t":0.64,"i":0.02},{"s":7,"t":0.65,"i":0.015},{"s":7,"t":0.66,"i":0.023},{"s":7,"t":0.67,"i":0.008},{"s":7,"t":0.68,"i":0.025},{"s":7,"t":0.69,"i":0.018},{"s":7,"t":0.7,"i":0.022},
        {"s":7,"t":0.71,"i":0.016},{"s":7,"t":0.72,"i":0.027},{"s":7,"t":0.73,"i":0.019},{"s":7,"t":0.74,"i":0.014},{"s":7,"t":0.75,"i":0.024},{"s":7,"t":0.76,"i":0.02},{"s":7,"t":0.77,"i":0.009},{"s":7,"t":0.78,"i":0.026},{"s":7,"t":0.79,"i":0.017},{"s":7,"t":0.8,"i":0.023},
        {"s":7,"t":0.81,"i":0.015},{"s":7,"t":0.82,"i":0.021},{"s":7,"t":0.83,"i":0.025},{"s":7,"t":0.84,"i":0.018},{"s":7,"t":0.85,"i":0.006},{"s":7,"t":0.86,"i":0.024},{"s":7,"t":0.87,"i":0.016},{"s":7,"t":0.88,"i":0.027},{"s":7,"t":0.89,"i":0.02},{"s":7,"t":0.9,"i":0.017},
        {"s":7,"t":0.91,"i":0.023},{"s":7,"t":0.92,"i":0.015},{"s":7,"t":0.93,"i":0.026},{"s":7,"t":0.94,"i":0.011},{"s":7,"t":0.95,"i":0.022},{"s":7,"t":0.96,"i":0.018},{"s":7,"t":0.97,"i":0.025},{"s":7,"t":0.98,"i":0.016},{"s":7,"t":0.99,"i":0.021},{"s":7,"t":1,"i":0.008},
        {"s":7,"t":1.01,"i":0.024},{"s":7,"t":1.02,"i":0.019},{"s":7,"t":1.03,"i":0.027},{"s":7,"t":1.04,"i":0.015},{"s":7,"t":1.05,"i":0.022},{"s":7,"t":1.06,"i":0.017},{"s":7,"t":1.07,"i":0.026},{"s":7,"t":1.08,"i":0.01},{"s":7,"t":1.09,"i":0.023},{"s":7,"t":1.1,"i":0.018},
        {"s":7,"t":1.11,"i":0.016},{"s":7,"t":1.12,"i":0.025},{"s":7,"t":1.13,"i":0.02},{"s":7,"t":1.14,"i":0.007},{"s":7,"t":1.15,"i":0.024},{"s":7,"t":1.16,"i":0.017},{"s":7,"t":1.17,"i":0.022},{"s":7,"t":1.18,"i":0.015},{"s":7,"t":1.19,"i":0.027},{"s":7,"t":1.2,"i":0.019},
        {"s":7,"t":1.21,"i":0.023},{"s":7,"t":1.22,"i":0.014},{"s":7,"t":1.23,"i":0.026},{"s":7,"t":1.24,"i":0.018},{"s":7,"t":1.25,"i":0.021},{"s":7,"t":1.26,"i":0.009},{"s":7,"t":1.27,"i":0.025},{"s":7,"t":1.28,"i":0.016},{"s":7,"t":1.29,"i":0.022},{"s":7,"t":1.3,"i":0.019},
        {"s":7,"t":1.31,"i":0.015},{"s":7,"t":1.32,"i":0.027},{"s":7,"t":1.33,"i":0.017},{"s":7,"t":1.34,"i":0.023},{"s":7,"t":1.35,"i":0.011},{"s":7,"t":1.36,"i":0.024},{"s":7,"t":1.37,"i":0.02},{"s":7,"t":1.38,"i":0.016},{"s":7,"t":1.39,"i":0.026},{"s":7,"t":1.4,"i":0.018},
        {"s":7,"t":1.41,"i":0.022},{"s":7,"t":1.42,"i":0.015},{"s":7,"t":1.43,"i":0.025},{"s":7,"t":1.44,"i":0.018},{"s":7,"t":1.45,"i":0.021},{"s":7,"t":1.46,"i":0.017},{"s":7,"t":1.47,"i":0.012},{"s":7,"t":1.48,"i":0.019},{"s":7,"t":1.49,"i":0.014},{"s":7,"t":1.5,"i":0.023},
        {"s":7,"t":1.51,"i":0.018},{"s":7,"t":1.52,"i":0.025},{"s":7,"t":1.53,"i":0.016},{"s":7,"t":1.54,"i":0.022},{"s":7,"t":1.55,"i":0.012},{"s":7,"t":1.56,"i":0.024},{"s":7,"t":1.57,"i":0.019},{"s":7,"t":1.58,"i":0.027},{"s":7,"t":1.59,"i":0.017},{"s":7,"t":1.6,"i":0.021},
        {"s":7,"t":1.607,"i":0.058},{"s":7,"t":1.62,"i":0.073},{"s":7,"t":1.635,"i":0.05},{"s":7,"t":1.65,"i":0.065},{"s":7,"t":1.665,"i":0.055},{"s":7,"t":1.68,"i":0.071},{"s":7,"t":1.692,"i":0.052},
        {"s":7,"t":1.701,"i":-0.048},{"s":7,"t":1.705,"i":-0.008},{"s":7,"t":1.712,"i":-0.019},{"s":7,"t":1.719,"i":0.01},{"s":7,"t":1.726,"i":-0.022},{"s":7,"t":1.733,"i":0.004},{"s":7,"t":1.74,"i":-0.016},{"s":7,"t":1.747,"i":0.008},

        {"s":8,"t":0.101,"i":0.06},{"s":8,"t":0.115,"i":0.064},{"s":8,"t":0.135,"i":0.052},{"s":8,"t":0.155,"i":0.069},{"s":8,"t":0.175,"i":0.055},{"s":8,"t":0.195,"i":0.061},{"s":8,"t":0.215,"i":0.048},{"s":8,"t":0.235,"i":0.067},{"s":8,"t":0.255,"i":0.057},{"s":8,"t":0.275,"i":0.071},{"s":8,"t":0.295,"i":0.05},
        {"s":8,"t":0.315,"i":0.063},{"s":8,"t":0.335,"i":0.054},{"s":8,"t":0.355,"i":0.068},{"s":8,"t":0.375,"i":0.049},{"s":8,"t":0.395,"i":0.06},{"s":8,"t":0.415,"i":0.066},{"s":8,"t":0.435,"i":0.053},{"s":8,"t":0.455,"i":0.07},{"s":8,"t":0.475,"i":0.056},{"s":8,"t":0.495,"i":0.062},
        {"s":8,"t":0.515,"i":0.047},{"s":8,"t":0.535,"i":0.065},{"s":8,"t":0.555,"i":0.058},{"s":8,"t":0.575,"i":0.051},{"s":8,"t":0.595,"i":0.069},{"s":8,"t":0.615,"i":0.055},{"s":8,"t":0.635,"i":0.063},{"s":8,"t":0.655,"i":0.049},{"s":8,"t":0.675,"i":0.067},{"s":8,"t":0.695,"i":0.057},
        {"s":8,"t":0.715,"i":0.052},{"s":8,"t":0.735,"i":0.071},{"s":8,"t":0.755,"i":0.06},{"s":8,"t":0.775,"i":0.048},{"s":8,"t":0.795,"i":0.064},{"s":8,"t":0.815,"i":0.054},{"s":8,"t":0.835,"i":0.068},{"s":8,"t":0.855,"i":0.05},{"s":8,"t":0.875,"i":0.062},{"s":8,"t":0.895,"i":0.058},
        {"s":8,"t":0.915,"i":0.066},{"s":8,"t":0.935,"i":0.049},{"s":8,"t":0.955,"i":0.07},{"s":8,"t":0.975,"i":0.056},{"s":8,"t":0.995,"i":0.053},{"s":8,"t":1.015,"i":0.065},{"s":8,"t":1.035,"i":0.047},{"s":8,"t":1.055,"i":0.061},{"s":8,"t":1.075,"i":0.069},{"s":8,"t":1.095,"i":0.055},
        {"s":8,"t":1.115,"i":0.063},{"s":8,"t":1.135,"i":0.051},{"s":8,"t":1.155,"i":0.067},{"s":8,"t":1.175,"i":0.058},{"s":8,"t":1.195,"i":0.049},{"s":8,"t":1.215,"i":0.064},{"s":8,"t":1.235,"i":0.057},{"s":8,"t":1.255,"i":0.071},{"s":8,"t":1.275,"i":0.052},{"s":8,"t":1.295,"i":0.06},
        {"s":8,"t":1.315,"i":0.068},{"s":8,"t":1.335,"i":0.05},{"s":8,"t":1.355,"i":0.062},{"s":8,"t":1.375,"i":0.055},{"s":8,"t":1.395,"i":0.066},{"s":8,"t":1.415,"i":0.048},{"s":8,"t":1.435,"i":0.065},{"s":8,"t":1.455,"i":0.059},{"s":8,"t":1.475,"i":0.053},{"s":8,"t":1.495,"i":0.069},
        {"s":8,"t":1.515,"i":0.056},{"s":8,"t":1.535,"i":0.063},{"s":8,"t":1.555,"i":0.05},{"s":8,"t":1.575,"i":0.067},{"s":8,"t":1.595,"i":0.058},

        {"s":9,"t":0.101,"i":0.043},{"s":9,"t":0.115,"i":0.047},{"s":9,"t":0.135,"i":0.035},{"s":9,"t":0.155,"i":0.052},{"s":9,"t":0.175,"i":0.038},{"s":9,"t":0.195,"i":0.044},{"s":9,"t":0.215,"i":0.031},{"s":9,"t":0.235,"i":0.05},{"s":9,"t":0.255,"i":0.04},{"s":9,"t":0.275,"i":0.054},{"s":9,"t":0.295,"i":0.033},
        {"s":9,"t":0.315,"i":0.046},{"s":9,"t":0.335,"i":0.037},{"s":9,"t":0.355,"i":0.051},{"s":9,"t":0.375,"i":0.032},{"s":9,"t":0.395,"i":0.043},{"s":9,"t":0.415,"i":0.049},{"s":9,"t":0.435,"i":0.036},{"s":9,"t":0.455,"i":0.053},{"s":9,"t":0.475,"i":0.039},{"s":9,"t":0.495,"i":0.045},
        {"s":9,"t":0.515,"i":0.03},{"s":9,"t":0.535,"i":0.048},{"s":9,"t":0.555,"i":0.041},{"s":9,"t":0.575,"i":0.034},{"s":9,"t":0.595,"i":0.052},{"s":9,"t":0.615,"i":0.038},{"s":9,"t":0.635,"i":0.046},{"s":9,"t":0.655,"i":0.032},{"s":9,"t":0.675,"i":0.05},{"s":9,"t":0.695,"i":0.04},
        {"s":9,"t":0.715,"i":0.035},{"s":9,"t":0.735,"i":0.054},{"s":9,"t":0.755,"i":0.043},{"s":9,"t":0.775,"i":0.031},{"s":9,"t":0.795,"i":0.047},{"s":9,"t":0.815,"i":0.037},{"s":9,"t":0.835,"i":0.051},{"s":9,"t":0.855,"i":0.033},{"s":9,"t":0.875,"i":0.045},{"s":9,"t":0.895,"i":0.041},
        {"s":9,"t":0.915,"i":0.049},{"s":9,"t":0.935,"i":0.032},{"s":9,"t":0.955,"i":0.053},{"s":9,"t":0.975,"i":0.039},{"s":9,"t":0.995,"i":0.036},{"s":9,"t":1.015,"i":0.048},{"s":9,"t":1.035,"i":0.03},{"s":9,"t":1.055,"i":0.044},{"s":9,"t":1.075,"i":0.052},{"s":9,"t":1.095,"i":0.038},
        {"s":9,"t":1.115,"i":0.046},{"s":9,"t":1.135,"i":0.034},{"s":9,"t":1.155,"i":0.05},{"s":9,"t":1.175,"i":0.041},{"s":9,"t":1.195,"i":0.032},{"s":9,"t":1.215,"i":0.047},{"s":9,"t":1.235,"i":0.04},{"s":9,"t":1.255,"i":0.054},{"s":9,"t":1.275,"i":0.035},{"s":9,"t":1.295,"i":0.043},
        {"s":9,"t":1.315,"i":0.051},{"s":9,"t":1.335,"i":0.033},{"s":9,"t":1.355,"i":0.045},{"s":9,"t":1.375,"i":0.038},{"s":9,"t":1.395,"i":0.049},{"s":9,"t":1.415,"i":0.031},{"s":9,"t":1.435,"i":0.048},{"s":9,"t":1.455,"i":0.042},{"s":9,"t":1.475,"i":0.036},{"s":9,"t":1.495,"i":0.052},
        {"s":9,"t":1.515,"i":0.039},{"s":9,"t":1.535,"i":0.046},{"s":9,"t":1.555,"i":0.033},{"s":9,"t":1.575,"i":0.05},{"s":9,"t":1.595,"i":0.041},

        {"s":10,"t":0.101,"i":0.027},{"s":10,"t":0.115,"i":0.031},{"s":10,"t":0.135,"i":0.021},{"s":10,"t":0.155,"i":0.035},{"s":10,"t":0.175,"i":0.024},{"s":10,"t":0.195,"i":0.029},{"s":10,"t":0.215,"i":0.018},{"s":10,"t":0.235,"i":0.034},{"s":10,"t":0.255,"i":0.026},{"s":10,"t":0.275,"i":0.037},{"s":10,"t":0.295,"i":0.02},
        {"s":10,"t":0.315,"i":0.03},{"s":10,"t":0.335,"i":0.023},{"s":10,"t":0.355,"i":0.035},{"s":10,"t":0.375,"i":0.019},{"s":10,"t":0.395,"i":0.028},{"s":10,"t":0.415,"i":0.033},{"s":10,"t":0.435,"i":0.022},{"s":10,"t":0.455,"i":0.036},{"s":10,"t":0.475,"i":0.025},{"s":10,"t":0.495,"i":0.03},
        {"s":10,"t":0.515,"i":0.017},{"s":10,"t":0.535,"i":0.032},{"s":10,"t":0.555,"i":0.027},{"s":10,"t":0.575,"i":0.021},{"s":10,"t":0.595,"i":0.035},{"s":10,"t":0.615,"i":0.024},{"s":10,"t":0.635,"i":0.031},{"s":10,"t":0.655,"i":0.019},{"s":10,"t":0.675,"i":0.034},{"s":10,"t":0.695,"i":0.026},
        {"s":10,"t":0.715,"i":0.022},{"s":10,"t":0.735,"i":0.037},{"s":10,"t":0.755,"i":0.028},{"s":10,"t":0.775,"i":0.018},{"s":10,"t":0.795,"i":0.031},{"s":10,"t":0.815,"i":0.023},{"s":10,"t":0.835,"i":0.035},{"s":10,"t":0.855,"i":0.02},{"s":10,"t":0.875,"i":0.029},{"s":10,"t":0.895,"i":0.027},
        {"s":10,"t":0.915,"i":0.033},{"s":10,"t":0.935,"i":0.019},{"s":10,"t":0.955,"i":0.036},{"s":10,"t":0.975,"i":0.025},{"s":10,"t":0.995,"i":0.022},{"s":10,"t":1.015,"i":0.032},{"s":10,"t":1.035,"i":0.017},{"s":10,"t":1.055,"i":0.029},{"s":10,"t":1.075,"i":0.035},{"s":10,"t":1.095,"i":0.024},
        {"s":10,"t":1.115,"i":0.031},{"s":10,"t":1.135,"i":0.021},{"s":10,"t":1.155,"i":0.034},{"s":10,"t":1.175,"i":0.027},{"s":10,"t":1.195,"i":0.019},{"s":10,"t":1.215,"i":0.031},{"s":10,"t":1.235,"i":0.026},{"s":10,"t":1.255,"i":0.037},{"s":10,"t":1.275,"i":0.022},{"s":10,"t":1.295,"i":0.028},
        {"s":10,"t":1.315,"i":0.035},{"s":10,"t":1.335,"i":0.02},{"s":10,"t":1.355,"i":0.03},{"s":10,"t":1.375,"i":0.024},{"s":10,"t":1.395,"i":0.033},{"s":10,"t":1.415,"i":0.018},{"s":10,"t":1.435,"i":0.032},{"s":10,"t":1.455,"i":0.027},{"s":10,"t":1.475,"i":0.023},{"s":10,"t":1.495,"i":0.035},
        {"s":10,"t":1.515,"i":0.025},{"s":10,"t":1.535,"i":0.031},{"s":10,"t":1.555,"i":0.02},{"s":10,"t":1.575,"i":0.034},{"s":10,"t":1.595,"i":0.026},

        {"s":11,"t":0.101,"i":0.072},{"s":11,"t":0.115,"i":0.075},{"s":11,"t":0.135,"i":0.066},{"s":11,"t":0.155,"i":0.079},{"s":11,"t":0.175,"i":0.069},{"s":11,"t":0.195,"i":0.077},{"s":11,"t":0.215,"i":0.07},{"s":11,"t":0.235,"i":0.083},{"s":11,"t":0.255,"i":0.073},{"s":11,"t":0.275,"i":0.086},{"s":11,"t":0.295,"i":0.07},
        {"s":11,"t":0.315,"i":0.08},{"s":11,"t":0.335,"i":0.072},{"s":11,"t":0.355,"i":0.085},{"s":11,"t":0.375,"i":0.069},{"s":11,"t":0.395,"i":0.077},{"s":11,"t":0.415,"i":0.083},{"s":11,"t":0.435,"i":0.071},{"s":11,"t":0.455,"i":0.087},{"s":11,"t":0.475,"i":0.074},{"s":11,"t":0.495,"i":0.08},
        {"s":11,"t":0.515,"i":0.068},{"s":11,"t":0.535,"i":0.083},{"s":11,"t":0.555,"i":0.077},{"s":11,"t":0.575,"i":0.07},{"s":11,"t":0.595,"i":0.086},{"s":11,"t":0.615,"i":0.073},{"s":11,"t":0.635,"i":0.081},{"s":11,"t":0.655,"i":0.069},{"s":11,"t":0.675,"i":0.085},{"s":11,"t":0.695,"i":0.075},
        {"s":11,"t":0.715,"i":0.071},{"s":11,"t":0.735,"i":0.088},{"s":11,"t":0.755,"i":0.079},{"s":11,"t":0.775,"i":0.068},{"s":11,"t":0.795,"i":0.082},{"s":11,"t":0.815,"i":0.073},{"s":11,"t":0.835,"i":0.086},{"s":11,"t":0.855,"i":0.07},{"s":11,"t":0.875,"i":0.08},{"s":11,"t":0.895,"i":0.077},
        {"s":11,"t":0.915,"i":0.084},{"s":11,"t":0.935,"i":0.069},{"s":11,"t":0.955,"i":0.087},{"s":11,"t":0.975,"i":0.074},{"s":11,"t":0.995,"i":0.071},{"s":11,"t":1.015,"i":0.082},{"s":11,"t":1.035,"i":0.068},{"s":11,"t":1.055,"i":0.079},{"s":11,"t":1.075,"i":0.086},{"s":11,"t":1.095,"i":0.073},
        {"s":11,"t":1.115,"i":0.081},{"s":11,"t":1.135,"i":0.07},{"s":11,"t":1.155,"i":0.085},{"s":11,"t":1.175,"i":0.077},{"s":11,"t":1.195,"i":0.069},{"s":11,"t":1.215,"i":0.082},{"s":11,"t":1.235,"i":0.075},{"s":11,"t":1.255,"i":0.088},{"s":11,"t":1.275,"i":0.071},{"s":11,"t":1.295,"i":0.078},
        {"s":11,"t":1.315,"i":0.086},{"s":11,"t":1.335,"i":0.07},{"s":11,"t":1.355,"i":0.08},{"s":11,"t":1.375,"i":0.073},{"s":11,"t":1.395,"i":0.084},{"s":11,"t":1.415,"i":0.068},{"s":11,"t":1.435,"i":0.083},{"s":11,"t":1.455,"i":0.077},{"s":11,"t":1.475,"i":0.072},{"s":11,"t":1.495,"i":0.086},
        {"s":11,"t":1.515,"i":0.074},{"s":11,"t":1.535,"i":0.081},{"s":11,"t":1.555,"i":0.07},{"s":11,"t":1.575,"i":0.085},{"s":11,"t":1.595,"i":0.076}
      ]},
      "encoding": {
        "x": {
          "field": "t",
          "type": "quantitative",
          "scale": {"domain": [-0.07, 1.82], "nice": false, "zero": false},
          "axis": {
            "title": "t [s]",
            "values": [0.1, 0.55, 1, 1.45],
            "labelExpr": "'' + datum.value",
            "grid": false,
            "tickSize": -7,
            "tickColor": "#262626",
            "domainColor": "#262626",
            "labelFont": "DejaVu Sans",
            "labelFontSize": 33.5,
            "labelColor": "#262626",
            "labelPadding": 24,
            "labelFlush": false,
            "labelOverlap": false,
            "titleFont": "DejaVu Sans",
            "titleFontSize": 31,
            "titleFontWeight": "normal",
            "titleColor": "#262626",
            "titlePadding": 12
          }
        },
        "y": {
          "field": "i",
          "type": "quantitative",
          "scale": {"domain": [-0.0556, 0.1662], "nice": false, "zero": false},
          "axis": {
            "title": "I [nA]",
            "values": [-0.05, 0, 0.05, 0.1, 0.15],
            "labelExpr": "'' + datum.value",
            "grid": false,
            "tickSize": -7,
            "tickColor": "#262626",
            "domainColor": "#262626",
            "labelFont": "DejaVu Sans",
            "labelFontSize": 33.5,
            "labelColor": "#262626",
            "labelPadding": 20,
            "labelFlush": false,
            "labelOverlap": false,
            "titleFont": "DejaVu Sans",
            "titleFontSize": 31,
            "titleFontWeight": "normal",
            "titleColor": "#262626",
            "titlePadding": 10
          }
        },
        "detail": {"field": "s", "type": "nominal"}
      },
      "layer": [
        {
          "transform": [{"filter": "datum.s <= 3"}],
          "mark": {"type": "line", "color": "black", "strokeWidth": 3.2, "clip": false}
        },
        {
          "transform": [{"filter": "datum.s >= 4"}],
          "mark": {"type": "line", "color": "black", "strokeWidth": 4.8, "clip": false}
        }
      ]
    },
    {
      "data": {"values": [{}]},
      "mark": {"type": "text", "text": "Kv1.8\u00a0 Rat\u00a0 CHO\u00a0 25 °C", "font": "DejaVu Sans", "fontSize": 22, "fontWeight": "bold", "align": "left", "baseline": "alphabetic", "color": "black"},
      "encoding": {"x": {"datum": 0.032}, "y": {"datum": 0.166}}
    },
    {
      "data": {"values": [{}]},
      "mark": {"type": "text", "text": "Inactivation", "font": "DejaVu Sans", "fontSize": 22, "align": "right", "baseline": "alphabetic", "color": "black"},
      "encoding": {"x": {"datum": 1.767}, "y": {"datum": 0.1663}}
    },
    {
      "data": {"values": [{}]},
      "mark": {"type": "text", "text": "BBP Channelpedia ID 25317 rep 2", "font": "DejaVu Sans", "fontSize": 22.5, "angle": 270, "align": "center", "baseline": "alphabetic", "color": "black"},
      "encoding": {"x": {"datum": 1.82}, "y": {"datum": 0.0555}}
    }
  ]
}
